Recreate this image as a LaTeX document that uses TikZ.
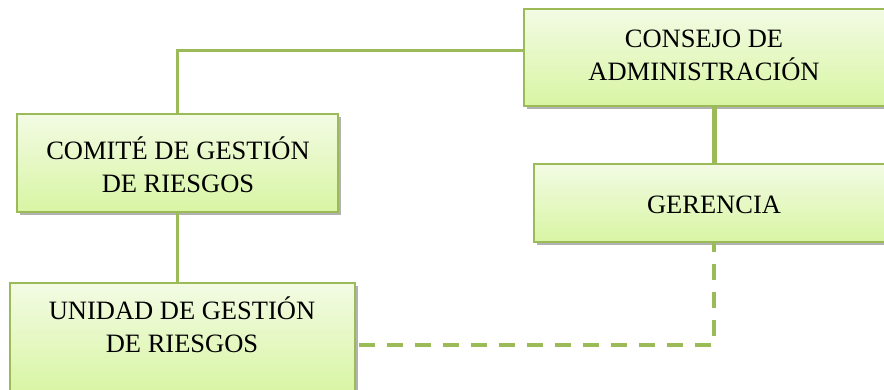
\documentclass[tikz,border=0pt]{standalone}
\usepackage{fontspec}
\setmainfont{Liberation Serif}
\usetikzlibrary{shadows,calc}
\definecolor{olive}{HTML}{9BBB59}
\definecolor{boxtop}{RGB}{243,251,228}
\definecolor{boxbot}{RGB}{216,245,163}
\tikzset{
  orgbox/.style={draw=olive, line width=2pt, top color=boxtop, bottom color=boxbot,
    drop shadow={shadow xshift=3pt, shadow yshift=-3pt, opacity=0.3, fill=black},
    rectangle, inner sep=0pt},
  boxtext/.style={font=\fontsize{26.5}{33}\selectfont, align=center, inner sep=0pt, anchor=base},
  solidlink/.style={draw=olive, line width=2.5pt},
  thicklink/.style={draw=olive, line width=5pt},
  dashlink/.style={draw=olive, line width=4.5pt, dash pattern=on 16pt off 12pt}
}
\begin{document}
\begin{tikzpicture}[x=1pt, y=-1pt]
  \useasboundingbox (0,0) rectangle (884,389);
  \fill[white] (0,0) rectangle (884,389);

  % boxes
  \node[orgbox, minimum width=366pt, minimum height=97pt] (consejo) at (707,57.5) {};
  \node[orgbox, minimum width=360pt, minimum height=78pt] (gerencia) at (714,203) {};
  \node[orgbox, minimum width=321pt, minimum height=98pt] (comite) at (177.5,163) {};
  \node[orgbox, minimum width=345pt, minimum height=112pt] (unidad) at (182.5,339) {};

  % connectors
  \coordinate (cjoin) at ($(consejo.north west)!0.43!(consejo.south west)$);
  \draw[solidlink] (comite.north) |- (cjoin);
  \draw[thicklink] (consejo.south -| gerencia.north) -- (gerencia.north);
  \draw[solidlink] (comite.south) -- (comite.south |- unidad.north);
  \coordinate (ujoin) at ([yshift=-6pt]unidad.east);
  \draw[dashlink] ([xshift=3pt]ujoin) -| (gerencia.south);

  % labels (base anchor sits on the last line)
  \node[boxtext] (tconsejo) at (704,80) {CONSEJO DE\\ADMINISTRACIÓN};
  \node[boxtext] (tgerencia) at (714,213) {GERENCIA};
  \node[boxtext] (tcomite) at (178,192) {COMITÉ DE GESTIÓN\\DE RIESGOS};
  \node[boxtext] (tunidad) at (182,352) {UNIDAD DE GESTIÓN\\DE RIESGOS};
\end{tikzpicture}
\end{document}
